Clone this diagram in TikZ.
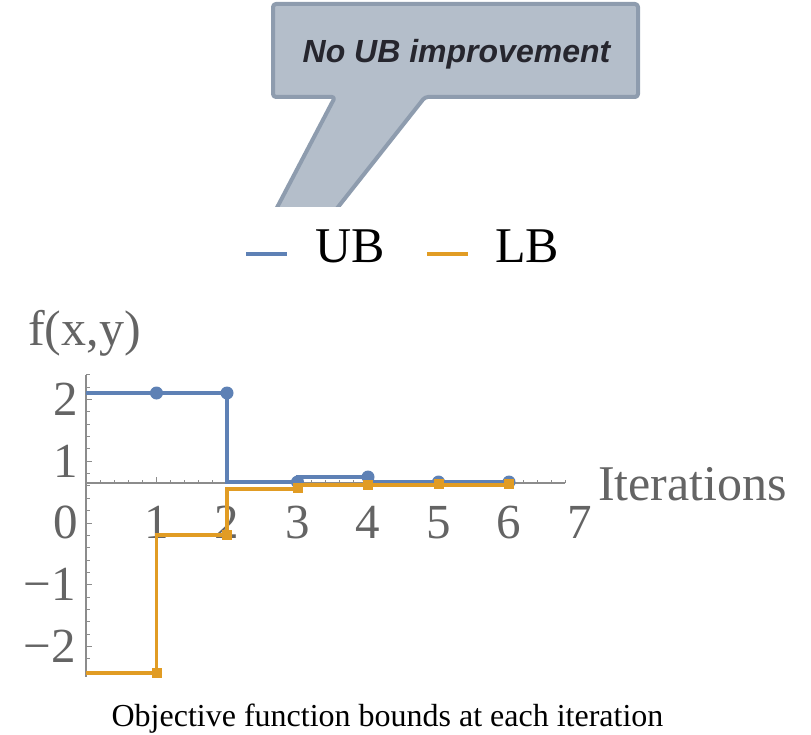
\documentclass[tikz,border=0pt]{standalone}
\usepackage{fontspec}
\setmainfont{Liberation Serif}
\newfontfamily\calloutfont{Liberation Sans}

\definecolor{ubblue}{HTML}{5E81B5}
\definecolor{lborange}{HTML}{E19C24}
\definecolor{axisgray}{HTML}{8C8C8C}
\definecolor{labelgray}{HTML}{646464}
\definecolor{callfill}{HTML}{B4BECA}
\definecolor{calledge}{HTML}{8E9CAE}
\definecolor{calltext}{HTML}{26262E}

\begin{document}
\begin{tikzpicture}[x=1pt,y=-1pt,
  callout/.style={fill=callfill,draw=calledge,line width=4pt,rounded corners=3pt,line join=round},
  callouttext/.style={text=calltext,font=\calloutfont\bfseries\itshape\fontsize{32}{38}\selectfont,inner sep=0pt},
  legendtext/.style={text=black,font=\fontsize{50}{60}\selectfont,inner sep=0pt},
  axislabel/.style={text=labelgray,font=\fontsize{50}{60}\selectfont,inner sep=0pt},
  ticklabel/.style={text=labelgray,font=\fontsize{49}{58}\selectfont,inner sep=0pt},
  captiontext/.style={text=black,font=\fontsize{32}{38}\selectfont,inner sep=0pt},
  axisline/.style={draw=axisgray,line width=1.3pt},
  tickmark/.style={draw=axisgray,line width=1pt},
  ubline/.style={draw=ubblue,line width=3.5pt},
  lbline/.style={draw=lborange,line width=3.5pt},
  ubmark/.style={circle,fill=ubblue,inner sep=0pt,minimum size=13pt},
  lbmark/.style={rectangle,fill=lborange,inner sep=0pt,minimum size=10pt}
]
\useasboundingbox (0,0) rectangle (811,735);

% speech bubble, its pointer cut off by the legend band
\begin{scope}
  \clip (0,0) rectangle (811,207);
  \draw[callout] (273,4) -- (638,4) -- (638,97) -- (425,97) -- (312,240)
                 -- (260,240) -- (335,97) -- (273,97) -- cycle;
\end{scope}
\node[callouttext,anchor=base] (note) at (456.5,63) {No UB improvement};

% legend
\coordinate (ubkeyA) at (246,254);
\coordinate (ubkeyB) at (287,254);
\draw[ubline] (ubkeyA) -- (ubkeyB);
\node[legendtext,anchor=base west] (ubkey) at (315,263) {UB};
\coordinate (lbkeyA) at (427,254);
\coordinate (lbkeyB) at (468,254);
\draw[lbline] (lbkeyA) -- (lbkeyB);
\node[legendtext,anchor=base west] (lbkey) at (495,263) {LB};

% axes
\coordinate (yTop) at (86,375);
\coordinate (yBot) at (86,677);
\coordinate (xLeft) at (86,483);
\coordinate (xRight) at (565,483);
\draw[axisline] (yTop) -- (yBot);
\draw[axisline] (xLeft) -- (xRight);

% x ticks
\foreach \k in {1,...,34} \draw[tickmark] ({86+14.1*\k},483) -- ++(0,-3.5);
\foreach \k in {1,...,6} \draw[tickmark] ({86+70.5*\k},483) -- ++(0,-6);
% y ticks
\foreach \j in {-12,...,12} \draw[tickmark] (86,{523-12.35*\j}) -- ++(3.5,0);
\foreach \j in {-10,-5,0,5,10} \draw[tickmark] (86,{523-12.35*\j}) -- ++(6,0);

% tick labels
\foreach \k in {1,...,7} \node[ticklabel,anchor=base] (xl\k) at ({86+70.5*\k},538) {\k};
\node[ticklabel,anchor=base east] (yl2) at (78,415) {2};
\node[ticklabel,anchor=base east] (yl1) at (78,477) {1};
\node[ticklabel,anchor=base east] (yl0) at (78,538) {0};
\node[ticklabel,anchor=base east] (ylm1) at (76,600) {−1};
\node[ticklabel,anchor=base east] (ylm2) at (76,662) {−2};

% axis titles
\node[axislabel,anchor=base west] (ytitle) at (28,345) {f(x,y)};
\node[axislabel,anchor=base west] (xtitle) at (598,500) {Iterations};

% upper bound
\coordinate (ub0) at (86,393);
\draw[ubline] (ub0) -- (227,393) -- (227,482) -- (297.5,482) -- (297.5,477)
              -- (368,477) -- (368,482) -- (509,482);
\node[ubmark] (ub1) at (156.5,393) {};
\node[ubmark] (ub2) at (227,393) {};
\node[ubmark] (ub3) at (297.5,482) {};
\node[ubmark] (ub4) at (368,477) {};
\node[ubmark] (ub5) at (438.5,482) {};
\node[ubmark] (ub6) at (509,482) {};

% lower bound
\coordinate (lb0) at (86,673);
\draw[lbline] (lb0) -- (156.5,673) -- (156.5,535) -- (227,535) -- (227,489)
              -- (297.5,489) -- (297.5,485) -- (509,485);
\node[lbmark] (lb1) at (156.5,673) {};
\node[lbmark] (lb2) at (227,535) {};
\node[lbmark] (lb3) at (297.5,488) {};
\node[lbmark] (lb4) at (368,485) {};
\node[lbmark] (lb5) at (438.5,484) {};
\node[lbmark] (lb6) at (509,484) {};

% caption
\node[captiontext,anchor=base] (caption) at (387.5,726) {Objective function bounds at each iteration};
\end{tikzpicture}
\end{document}
